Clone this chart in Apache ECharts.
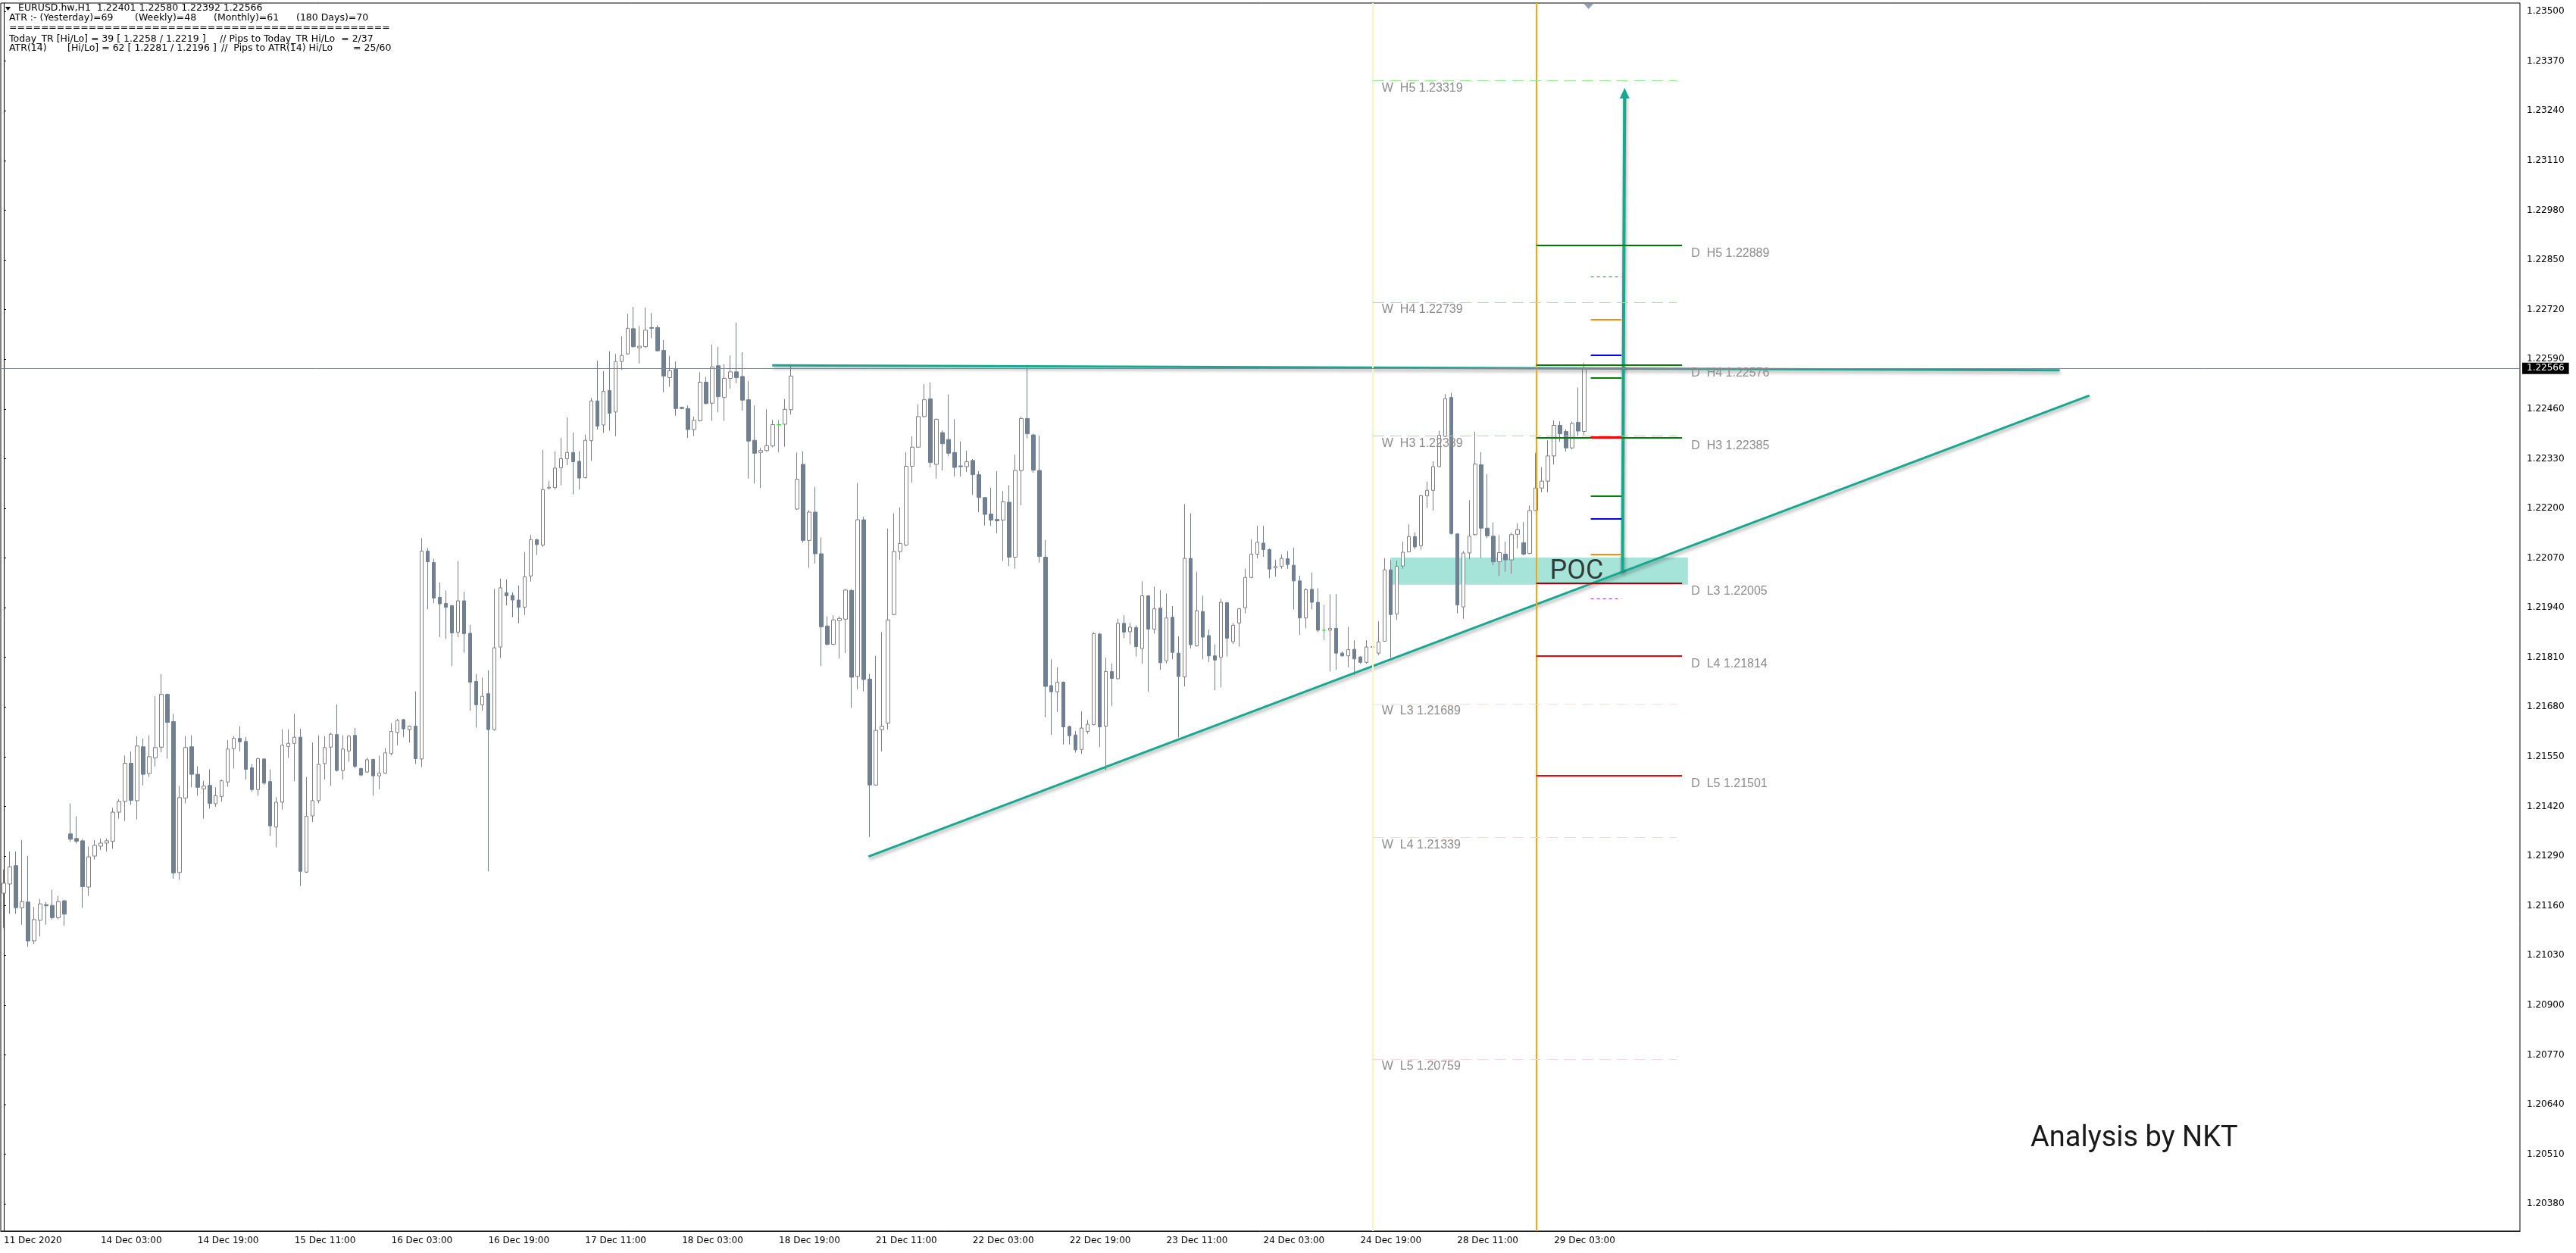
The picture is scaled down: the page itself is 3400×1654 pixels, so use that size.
<!DOCTYPE html>
<html>
<head>
<meta charset="utf-8">
<title>EURUSD.hw H1</title>
<script src="https://cdn.jsdelivr.net/npm/echarts@6/dist/echarts.min.js"></script>
<style>
  html, body { margin: 0; padding: 0; background: #fff; }
  #chart { width: 3400px; height: 1654px; }
</style>
</head>
<body>
<div id="chart"></div>
<script>
// hourly bars, 11 Dec 2020 11:00 -> 29 Dec 2020 08:00, prices in points (1 point = 0.00001)
const opens = [
  121193,121217,121265,121155,121170,121068,121122,121163,121161,121129,
  121173,121348,121336,121330,121209,121290,121316,121324,121329,121405,
  121433,121533,121435,121576,121506,121547,121575,121713,121642,121247,
  121442,121576,121504,121466,121475,121427,121446,121484,121571,121598,
  121590,121521,121464,121544,121485,121366,121431,121577,121585,121601,
  121248,121395,121435,121532,121575,121608,121514,121565,121606,121519,
  121510,121543,121500,121507,121558,121613,121647,121621,121630,121544,
  122088,122058,121967,121951,121945,121876,121958,121873,121747,121686,
  121715,121621,121837,121979,121972,121960,121941,122023,122118,122104,
  122253,122254,122306,122330,122346,122323,122280,122377,122481,122418,
  122508,122452,122584,122604,122670,122620,122623,122673,122673,122613,
  122542,122564,122464,122461,122406,122429,122530,122475,122573,122490,
  122540,122557,122545,122484,122378,122346,122351,122363,122419,122420,
  122458,122198,122315,122116,122190,122081,121892,121844,121906,121910,
  121985,121760,122170,121753,121476,121621,121638,121922,122087,122104,
  122310,122360,122440,122486,122315,122398,122380,122346,122311,122309,
  122325,122288,122228,122185,122171,122169,122216,122072,122299,122435,
  122392,122299,122072,121736,121720,121745,121629,121607,121569,121616,
  121634,121871,121630,121773,121754,121899,121877,121888,121833,121971,
  121884,121939,121801,121915,121821,121759,122069,121840,121930,121867,
  121814,121810,121953,121851,121900,121940,122019,122080,122109,122092,
  122044,122048,122068,122051,122010,121913,121988,121954,121881,121881,
  121886,121821,121814,121831,121811,121797,121836,121821,121852,122039,
  121924,122049,122086,122126,122102,122233,122247,122309,122388,122490,
  122133,121942,122083,122131,122314,122148,122127,122060,122080,122065,
  122132,122110,122082,122194,122253,122271,122337,122417,122401,122358,
  122425,122401
];
const highs = [
  121255,121302,121302,121332,121290,121157,121178,121170,121202,121186,
  121176,121428,121394,121334,121315,121332,121336,121336,121416,121439,
  121553,121564,121604,121598,121606,121708,121766,121715,121662,121474,
  121604,121606,121525,121487,121517,121470,121490,121594,121604,121630,
  121602,121531,121547,121546,121517,121444,121622,121622,121662,121623,
  121497,121587,121606,121604,121613,121687,121606,121606,121625,121521,
  121548,121545,121553,121573,121638,121649,121649,121632,121721,122122,
  122096,122068,122006,121985,121947,122062,121982,121895,121766,121757,
  121776,121989,122016,122014,121980,121998,122086,122131,122120,122353,
  122272,122349,122384,122438,122398,122349,122393,122489,122586,122559,
  122611,122604,122650,122709,122727,122677,122725,122711,122679,122640,
  122599,122584,122466,122469,122440,122556,122544,122628,122622,122577,
  122600,122686,122608,122533,122469,122358,122459,122431,122431,122486,
  122577,122346,122349,122195,122256,122124,121917,121920,121917,121989,
  121989,122266,122178,121767,121814,121876,122147,122187,122202,122347,
  122388,122472,122525,122529,122435,122404,122498,122433,122375,122351,
  122329,122297,122230,122254,122297,122245,122260,122340,122440,122568,
  122395,122390,122117,121805,121784,121747,121631,121617,121669,121646,
  121876,121874,121809,121794,121911,121920,121900,121894,122009,121973,
  121995,121986,121977,121944,121865,122211,122187,122034,121971,121883,
  121844,121963,121955,121900,121939,122042,122119,122154,122154,122095,
  122065,122079,122088,122097,122024,121991,122032,121991,121947,121975,
  121976,121826,121890,121855,121813,121855,121855,121904,122070,122065,
  122063,122113,122158,122137,122235,122270,122323,122403,122499,122502,
  122135,122088,122221,122400,122347,122289,122163,122130,122113,122136,
  122161,122164,122207,122345,122308,122378,122430,122427,122407,122427,
  122516,122580
];
const lows = [
  121102,121139,121139,121110,121053,121060,121080,121110,121124,121125,
  121108,121327,121323,121155,121186,121281,121306,121302,121309,121388,
  121382,121424,121386,121475,121497,121524,121562,121545,121231,121228,
  121428,121470,121448,121388,121414,121419,121432,121472,121519,121564,
  121490,121458,121448,121476,121343,121313,121412,121547,121486,121212,
  121246,121379,121428,121490,121474,121511,121490,121537,121520,121499,
  121508,121448,121465,121505,121554,121580,121601,121587,121531,121523,
  121936,121952,121863,121858,121787,121863,121822,121670,121626,121670,
  121250,121618,121808,121946,121915,121899,121921,122008,122078,122099,
  122249,122249,122260,122313,122236,122249,122278,122324,122406,122397,
  122403,122388,122562,122602,122620,122579,122620,122645,122610,122504,
  122518,122442,122459,122384,122389,122427,122472,122429,122451,122429,
  122513,122527,122456,122278,122265,122253,122349,122360,122347,122361,
  122445,122196,122110,122044,122055,121787,121841,121842,121807,121821,
  121678,121726,121721,121340,121474,121564,121621,121920,122065,122101,
  122267,122358,122438,122307,122278,122299,122336,122283,122283,122295,
  122235,122190,122155,122154,122134,122062,122049,122042,122208,122383,
  122293,122058,121653,121607,121667,121582,121582,121561,121557,121610,
  121632,121575,121515,121683,121752,121860,121844,121812,121793,121720,
  121872,121777,121794,121805,121600,121734,121833,121838,121805,121798,
  121724,121731,121812,121845,121838,121925,122017,122069,122073,122017,
  122021,122042,122042,121935,121869,121886,121936,121876,121855,121773,
  121777,121812,121784,121764,121793,121793,121823,121816,121852,121809,
  121908,122042,122085,122093,122092,122201,122194,122308,122386,122131,
  121925,121911,122067,122129,122070,122122,122051,122023,122034,122029,
  122095,122077,122080,122193,122242,122242,122315,122374,122348,122354,
  122389,122392
];
const closes = [
  121219,121262,121155,121171,121068,121124,121165,121160,121129,121171,
  121138,121334,121329,121210,121288,121318,121324,121330,121405,121433,
  121533,121436,121578,121504,121550,121574,121713,121640,121246,121443,
  121574,121504,121470,121473,121428,121448,121487,121570,121598,121589,
  121517,121464,121545,121481,121369,121431,121580,121585,121601,121250,
  121394,121435,121530,121574,121609,121514,121570,121604,121525,121502,
  121542,121500,121507,121560,121616,121645,121623,121630,121545,122088,
  122060,121965,121950,121941,121874,121958,121872,121745,121686,121708,
  121621,121835,121992,121971,121960,121941,122021,122118,122105,122249,
  122255,122305,122330,122346,122322,122279,122378,122481,122415,122506,
  122449,122584,122600,122671,122623,122624,122666,122671,122612,122546,
  122560,122461,122461,122406,122430,122530,122474,122570,122492,122540,
  122557,122542,122483,122376,122344,122351,122364,122419,122419,122459,
  122546,122276,122116,122190,122081,121890,121844,121908,121912,121986,
  121758,122170,121752,121476,121619,121630,121908,122087,122108,122310,
  122360,122440,122484,122320,122433,122369,122344,122307,122309,122322,
  122288,122228,122184,122169,122167,122217,122072,122299,122435,122395,
  122300,122074,121734,121720,121745,121628,121605,121568,121625,121635,
  121872,121628,121773,121755,121899,121876,121889,121838,121971,121884,
  121937,121796,121913,121823,121760,122069,121843,121932,121863,121814,
  121803,121954,121860,121894,121937,122019,122080,122111,122092,122041,
  122048,122069,122053,122010,121913,121987,121954,121881,121881,121886,
  121821,121814,121830,121806,121797,121837,121838,121850,122039,121922,
  122048,122085,122126,122099,122233,122247,122309,122391,122487,122134,
  121947,122083,122127,122316,122148,122128,122060,122084,122065,122131,
  122144,122080,122194,122253,122271,122337,122417,122395,122358,122422,
  122402,122566
];

// time axis: one label every 16 bars
const xTickLabels = [
  '11 Dec 2020', '14 Dec 03:00', '14 Dec 19:00', '15 Dec 11:00', '16 Dec 03:00',
  '16 Dec 19:00', '17 Dec 11:00', '18 Dec 03:00', '18 Dec 19:00', '21 Dec 11:00',
  '22 Dec 03:00', '22 Dec 19:00', '23 Dec 11:00', '24 Dec 03:00', '24 Dec 19:00',
  '28 Dec 11:00', '29 Dec 03:00'
];
const tickStep = 16;
const slotCount = 416; // bars that fit the window, incl. the empty right shift

const yTickValues = [
  1.2038, 1.2051, 1.2064, 1.2077, 1.2090, 1.2103, 1.2116, 1.2129, 1.2142,
  1.2155, 1.2168, 1.2181, 1.2194, 1.2207, 1.2220, 1.2233, 1.2246, 1.2259,
  1.2272, 1.2285, 1.2298, 1.2311, 1.2324, 1.2337, 1.2350
];
const yMin = 1.20309;
const yMax = 1.23522;

// pivots
const levelNames = ['H5', 'H4', 'H3', 'L3', 'L4', 'L5'];
const weeklyLevels = [1.23319, 1.22739, 1.22389, 1.21689, 1.21339, 1.20759];
const dailyLevels = [1.22889, 1.22576, 1.22385, 1.22005, 1.21814, 1.21501];
// ATR / TR target ticks, top to bottom
const atrLevels = [1.22806, 1.22694, 1.22601, 1.22541, 1.22386, 1.22232, 1.22172, 1.22080, 1.21964];
const pocRange = [1.22000, 1.22071];

// bar-index extents
const weekStartBar = 226.06;
const dayStartBar = 253.06;
const weeklySpan = [226.06, 276.3];
const dailySpan = [253.06, 277.15];
const atrSpan = [262.06, 267.15];
const pocSpan = [229, 278.1];
const pocLabelAt = [255.3, 1.22034];
const shiftMarkerBar = 261.7;

// drawn analysis
const resistanceLine = [[126.9, 1.22574], [339.5, 1.22561]];
const trendLine = [[142.8, 1.21289], [344.4, 1.22495]];
const targetArrow = [[267.3, 1.22034], [267.65, 1.23286]];

// ---------------------------------------------------------------
const P = v => v / 100000;
const candleData = opens.map((o, i) => [P(o), P(closes[i]), P(lows[i]), P(highs[i])]);
const lastPrice = P(closes[closes.length - 1]);
const categories = Array.from({ length: slotCount }, (_, i) => String(i));
const isTick = i => i % tickStep === 0 && i / tickStep < xTickLabels.length;

const teal = '#17a98f';
const shadow = { shadowColor: 'rgba(0,0,0,0.35)', shadowBlur: 4, shadowOffsetX: 1, shadowOffsetY: 3 };
const weeklyColors = ['#90ee90', '#90ee90', '#90ee90', '#ffdede', '#ffd6d6', '#ffd6d6'];
const dailyColors = ['#007800', '#008000', '#008000', '#a80000', '#ff0000', '#ff0000'];
const atrColors = ['#9932cc', '#ff8c00', '#0000ff', '#008000', '#ff0000', '#008000', '#0000ff', '#ff8c00', '#9932cc'];

const pivotLabel = {
  color: '#8c8c8c',
  fontFamily: 'Liberation Sans',
  fontSize: 16
};

const levelLines = [
  { xAxis: weekStartBar, lineStyle: { color: '#f8f5c8', width: 2, type: 'solid' }, label: { show: false } },
  { xAxis: dayStartBar, lineStyle: { color: '#ffa500', width: 2, type: 'solid' }, label: { show: false } },
  {
    yAxis: lastPrice,
    lineStyle: { color: '#778899', width: 1, type: 'solid' },
    label: {
      show: true, position: 'end', distance: 3,
      formatter: lastPrice.toFixed(5),
      backgroundColor: '#000', color: '#fff',
      padding: [2, 6, 1, 6],
      fontFamily: 'DejaVu Sans', fontSize: 12
    }
  }
];
weeklyLevels.forEach((v, i) => {
  levelLines.push([
    {
      coord: [weeklySpan[0], v],
      lineStyle: { color: weeklyColors[i], width: 1, type: [15, 8] },
      label: Object.assign({ show: true, position: 'insideStartBottom', distance: [12, 2],
        formatter: 'W  ' + levelNames[i] + ' ' + v.toFixed(5) }, pivotLabel)
    },
    { coord: [weeklySpan[1], v] }
  ]);
});
dailyLevels.forEach((v, i) => {
  levelLines.push([
    {
      coord: [dailySpan[0], v],
      lineStyle: { color: dailyColors[i], width: 2, type: 'solid' },
      label: { show: false }
    },
    { coord: [dailySpan[1], v] }
  ]);
  // transparent continuation that carries the label just right of and below the line end
  levelLines.push([
    {
      coord: [dailySpan[1], v],
      lineStyle: { color: 'rgba(255,255,255,0)', width: 1 },
      label: Object.assign({ show: true, position: 'insideStartBottom', distance: [12, 3],
        formatter: 'D  ' + levelNames[i] + ' ' + v.toFixed(5) }, pivotLabel)
    },
    { coord: [dailySpan[1] + 20, v] }
  ]);
});
atrLevels.forEach((v, i) => {
  const dotted = i === 0 || i === atrLevels.length - 1;
  levelLines.push([
    {
      coord: [atrSpan[0], v],
      lineStyle: { color: atrColors[i], width: dotted ? 1 : (i === 4 ? 3 : 2), type: dotted ? [4, 4] : 'solid' },
      label: { show: false }
    },
    { coord: [atrSpan[1], v] }
  ]);
});

const headerFont = '12.5px "DejaVu Sans"';
const headerText = (x, y, text) => ({
  type: 'text', x: x, y: y,
  style: { text: text, font: headerFont, fill: '#000', verticalAlign: 'middle' }
});

const chart = echarts.init(document.getElementById('chart'), null, { renderer: 'canvas' });

chart.setOption({
  animation: false,
  backgroundColor: '#fff',
  grid: {
    left: 1, right: 74, top: 4, bottom: 29,
    show: true, borderColor: '#000', borderWidth: 1,
    containLabel: false, outerBoundsMode: 'none'
  },
  xAxis: [
    {
      type: 'category',
      data: categories,
      boundaryGap: true,
      axisLine: { lineStyle: { color: '#000', width: 1 } },
      axisTick: { alignWithLabel: true, interval: isTick, length: 4, lineStyle: { color: '#000' } },
      axisLabel: {
        interval: isTick,
        formatter: v => xTickLabels[Number(v) / tickStep] || '',
        align: 'left', margin: 7,
        color: '#000', fontFamily: 'DejaVu Sans', fontSize: 12
      },
      splitLine: { show: false }
    },
    { type: 'value', min: -0.5, max: slotCount - 0.5, show: false }
  ],
  yAxis: {
    type: 'value',
    position: 'right',
    min: yMin, max: yMax,
    axisLine: { show: true, lineStyle: { color: '#000', width: 1 } },
    axisTick: { show: true, customValues: yTickValues, length: 3, lineStyle: { color: '#000' } },
    axisLabel: {
      customValues: yTickValues,
      formatter: v => v.toFixed(5),
      margin: 9, color: '#000', fontFamily: 'DejaVu Sans', fontSize: 12
    },
    splitLine: { show: false }
  },
  graphic: [
    { type: 'polygon', shape: { points: [[7, 9], [14, 9], [10.5, 14]] }, style: { fill: '#000' } },
    headerText(24, 11, 'EURUSD.hw,H1  1.22401 1.22580 1.22392 1.22566'),
    headerText(12, 24, 'ATR :- (Yesterday)=69'),
    headerText(178, 24, '(Weekly)=48'),
    headerText(282, 24, '(Monthly)=61'),
    headerText(391, 24, '(180 Days)=70'),
    headerText(12, 37, '================================================'),
    headerText(12, 52, 'Today_TR [Hi/Lo] = 39 [ 1.2258 / 1.2219 ]'),
    headerText(290, 52, '// Pips to Today_TR Hi/Lo  = 2/37'),
    headerText(12, 64, 'ATR(14)'),
    headerText(89, 64, '[Hi/Lo] = 62 [ 1.2281 / 1.2196 ]'),
    headerText(292, 64, '//  Pips to ATR(14) Hi/Lo'),
    headerText(466, 64, '= 25/60'),
    { type: 'text', x: 2680, y: 1503, style: { text: 'Analysis by NKT', font: '38px Roboto', fill: '#1a1a1a', verticalAlign: 'middle' } }
  ],
  series: [
    {
      name: 'levels',
      type: 'line',
      xAxisIndex: 1,
      data: [],
      z: 1,
      silent: true,
      markLine: { silent: true, precision: 5, symbol: ['none', 'none'], animation: false, data: levelLines }
    },
    {
      name: 'EURUSD',
      type: 'candlestick',
      xAxisIndex: 0,
      data: candleData,
      barWidth: 5,
      z: 2,
      silent: true,
      itemStyle: {
        color: '#ffffff',
        color0: '#708090',
        borderColor: '#7f7f7f',
        borderColor0: '#708090',
        borderColorDoji: '#00ff00',
        borderWidth: 1
      }
    },
    {
      name: 'POC',
      type: 'line',
      xAxisIndex: 1,
      data: [],
      z: 3,
      silent: true,
      markArea: {
        silent: true,
        itemStyle: { color: 'rgba(77,199,179,0.5)' },
        data: [[{ coord: [pocSpan[0], pocRange[1]] }, { coord: [pocSpan[1], pocRange[0]] }]]
      }
    },
    {
      name: 'POC label',
      type: 'scatter',
      xAxisIndex: 1,
      data: [pocLabelAt],
      symbolSize: 0,
      z: 5,
      silent: true,
      label: { show: true, position: 'right', distance: 0, formatter: 'POC', color: '#111', fontFamily: 'Roboto', fontSize: 36 }
    },
    {
      name: 'resistance',
      type: 'line',
      xAxisIndex: 1,
      data: resistanceLine,
      symbol: 'none',
      z: 4,
      silent: true,
      lineStyle: Object.assign({ color: teal, width: 3 }, shadow)
    },
    {
      name: 'trend',
      type: 'line',
      xAxisIndex: 1,
      data: trendLine,
      symbol: 'none',
      z: 4,
      silent: true,
      lineStyle: Object.assign({ color: teal, width: 3 }, shadow)
    },
    {
      name: 'target',
      type: 'line',
      xAxisIndex: 1,
      data: [targetArrow[0], { value: targetArrow[1], symbol: 'triangle', symbolSize: [13, 14] }],
      symbol: 'none',
      showSymbol: true,
      z: 4,
      silent: true,
      clip: false,
      itemStyle: { color: teal },
      lineStyle: Object.assign({ color: teal, width: 4 }, shadow)
    },
    {
      name: 'shift',
      type: 'scatter',
      xAxisIndex: 1,
      data: [[shiftMarkerBar, yMax]],
      symbol: 'triangle',
      symbolRotate: 180,
      symbolSize: [14, 8],
      symbolOffset: [0, 4],
      clip: false,
      z: 5,
      silent: true,
      itemStyle: { color: '#778899' }
    }
  ]
});
</script>
</body>
</html>
